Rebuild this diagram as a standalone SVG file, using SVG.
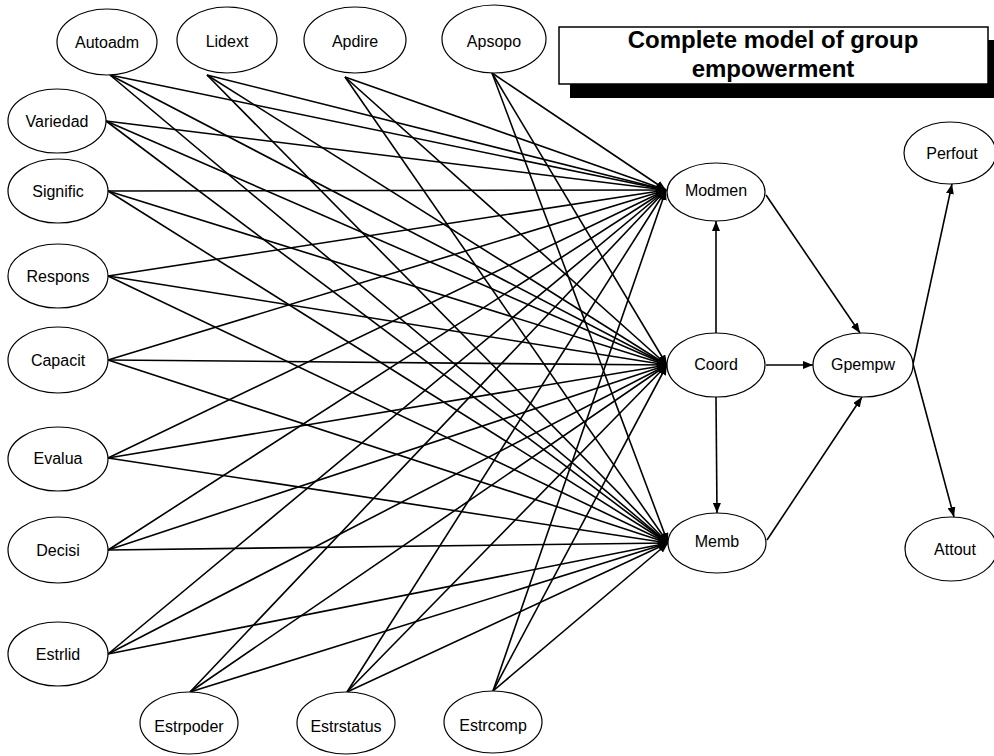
<svg xmlns="http://www.w3.org/2000/svg" width="994" height="756" viewBox="0 0 994 756">
  <style>
    .node ellipse { fill: #ffffff; stroke: #000000; stroke-width: 1.2; }
    .node text { font-family: "Liberation Sans", Arial, sans-serif; font-size: 16px; fill: #000000; text-anchor: middle; dominant-baseline: central; }
    .edges line { stroke: #000000; stroke-width: 1.6; marker-end: url(#arrow); }
    .title text { font-family: "Liberation Sans", Arial, sans-serif; font-size: 24px; font-weight: bold; fill: #000000; text-anchor: middle; }
  </style>
  <defs>
    <marker id="arrow" markerUnits="userSpaceOnUse" markerWidth="11" markerHeight="8" refX="10" refY="4" orient="auto">
      <path d="M0,0 L10,4 L0,8 Z" fill="#000000"/>
    </marker>
  </defs>
  <rect width="994" height="756" fill="#ffffff"/>

  <!-- title box with drop shadow -->
  <g id="title" class="title">
    <rect x="570" y="40" width="430" height="58" fill="#000000"/>
    <rect x="559" y="27" width="429" height="57" fill="#ffffff" stroke="#000000" stroke-width="1.5"/>
    <text x="773" y="48">Complete model of group</text>
    <text x="773" y="77">empowerment</text>
  </g>

  <!-- connectors -->
  <g id="edges" class="edges">
    <!-- Autoadm -->
    <line x1="110" y1="75" x2="666" y2="190"/>
    <line x1="110" y1="75" x2="667" y2="365"/>
    <line x1="110" y1="75" x2="668" y2="543"/>
    <!-- Lidext -->
    <line x1="207" y1="75" x2="666" y2="190"/>
    <line x1="207" y1="75" x2="667" y2="365"/>
    <line x1="207" y1="75" x2="668" y2="543"/>
    <!-- Apdire -->
    <line x1="345" y1="77" x2="666" y2="190"/>
    <line x1="345" y1="77" x2="667" y2="365"/>
    <line x1="345" y1="77" x2="668" y2="543"/>
    <!-- Apsopo -->
    <line x1="492" y1="73" x2="666" y2="190"/>
    <line x1="492" y1="73" x2="667" y2="365"/>
    <line x1="492" y1="73" x2="668" y2="543"/>
    <!-- Variedad -->
    <line x1="106" y1="121" x2="666" y2="190"/>
    <line x1="106" y1="121" x2="667" y2="365"/>
    <line x1="106" y1="121" x2="668" y2="543"/>
    <!-- Signific -->
    <line x1="108" y1="191" x2="666" y2="190"/>
    <line x1="108" y1="191" x2="667" y2="365"/>
    <line x1="108" y1="191" x2="668" y2="543"/>
    <!-- Respons -->
    <line x1="108" y1="276" x2="666" y2="190"/>
    <line x1="108" y1="276" x2="667" y2="365"/>
    <line x1="108" y1="276" x2="668" y2="543"/>
    <!-- Capacit -->
    <line x1="108" y1="360" x2="666" y2="190"/>
    <line x1="108" y1="360" x2="667" y2="365"/>
    <line x1="108" y1="360" x2="668" y2="543"/>
    <!-- Evalua -->
    <line x1="108" y1="458" x2="666" y2="190"/>
    <line x1="108" y1="458" x2="667" y2="365"/>
    <line x1="108" y1="458" x2="668" y2="543"/>
    <!-- Decisi -->
    <line x1="108" y1="550" x2="666" y2="190"/>
    <line x1="108" y1="550" x2="667" y2="365"/>
    <line x1="108" y1="550" x2="668" y2="543"/>
    <!-- Estrlid -->
    <line x1="108" y1="654" x2="666" y2="190"/>
    <line x1="108" y1="654" x2="667" y2="365"/>
    <line x1="108" y1="654" x2="668" y2="543"/>
    <!-- Estrpoder -->
    <line x1="190" y1="692" x2="666" y2="190"/>
    <line x1="190" y1="692" x2="667" y2="365"/>
    <line x1="190" y1="692" x2="668" y2="543"/>
    <!-- Estrstatus -->
    <line x1="347" y1="692" x2="666" y2="190"/>
    <line x1="347" y1="692" x2="667" y2="365"/>
    <line x1="347" y1="692" x2="668" y2="543"/>
    <!-- Estrcomp -->
    <line x1="493" y1="691" x2="666" y2="190"/>
    <line x1="493" y1="691" x2="667" y2="365"/>
    <line x1="493" y1="691" x2="668" y2="543"/>
    <!-- mediators and outcomes -->
    <line x1="716" y1="333" x2="716" y2="221"/>
    <line x1="716" y1="397" x2="717" y2="513"/>
    <line x1="766" y1="365" x2="813" y2="365"/>
    <line x1="766" y1="195" x2="860" y2="333"/>
    <line x1="767" y1="540" x2="862" y2="397"/>
    <line x1="913" y1="364" x2="952" y2="184"/>
    <line x1="913" y1="364" x2="954" y2="517"/>
  </g>

  <!-- nodes -->
  <g id="Autoadm" class="node"><ellipse cx="107" cy="42" rx="50" ry="33"/><text x="107" y="42">Autoadm</text></g>
  <g id="Lidext" class="node"><ellipse cx="227" cy="40" rx="50" ry="33"/><text x="227" y="41">Lidext</text></g>
  <g id="Apdire" class="node"><ellipse cx="355" cy="40" rx="51" ry="33"/><text x="355" y="41">Apdire</text></g>
  <g id="Apsopo" class="node"><ellipse cx="494" cy="39" rx="52" ry="34"/><text x="494" y="41">Apsopo</text></g>

  <g id="Variedad" class="node"><ellipse cx="57" cy="121" rx="49" ry="32"/><text x="57" y="121">Variedad</text></g>
  <g id="Signific" class="node"><ellipse cx="58" cy="191" rx="50" ry="32"/><text x="58" y="191">Signific</text></g>
  <g id="Respons" class="node"><ellipse cx="58" cy="276" rx="50" ry="32"/><text x="58" y="276">Respons</text></g>
  <g id="Capacit" class="node"><ellipse cx="58" cy="360" rx="50" ry="33"/><text x="58" y="360">Capacit</text></g>
  <g id="Evalua" class="node"><ellipse cx="58" cy="459" rx="50" ry="32"/><text x="58" y="458">Evalua</text></g>
  <g id="Decisi" class="node"><ellipse cx="58" cy="550" rx="50" ry="33"/><text x="58" y="550">Decisi</text></g>
  <g id="Estrlid" class="node"><ellipse cx="58" cy="654" rx="50" ry="32"/><text x="58" y="654">Estrlid</text></g>

  <g id="Estrpoder" class="node"><ellipse cx="189" cy="723" rx="49" ry="31"/><text x="189" y="726">Estrpoder</text></g>
  <g id="Estrstatus" class="node"><ellipse cx="346" cy="723" rx="49" ry="31"/><text x="346" y="726">Estrstatus</text></g>
  <g id="Estrcomp" class="node"><ellipse cx="493" cy="722" rx="49" ry="31"/><text x="493" y="725">Estrcomp</text></g>

  <g id="Modmen" class="node"><ellipse cx="716" cy="192" rx="49" ry="29"/><text x="716" y="190">Modmen</text></g>
  <g id="Coord" class="node"><ellipse cx="716" cy="365" rx="49" ry="32"/><text x="716" y="364">Coord</text></g>
  <g id="Memb" class="node"><ellipse cx="717" cy="543" rx="49" ry="30"/><text x="717" y="541">Memb</text></g>
  <g id="Gpempw" class="node"><ellipse cx="863" cy="365" rx="50" ry="32"/><text x="863" y="364">Gpempw</text></g>
  <g id="Perfout" class="node"><ellipse cx="950" cy="153" rx="46" ry="31"/><text x="952" y="153">Perfout</text></g>
  <g id="Attout" class="node"><ellipse cx="951" cy="549" rx="46" ry="32"/><text x="955" y="549">Attout</text></g>
</svg>
